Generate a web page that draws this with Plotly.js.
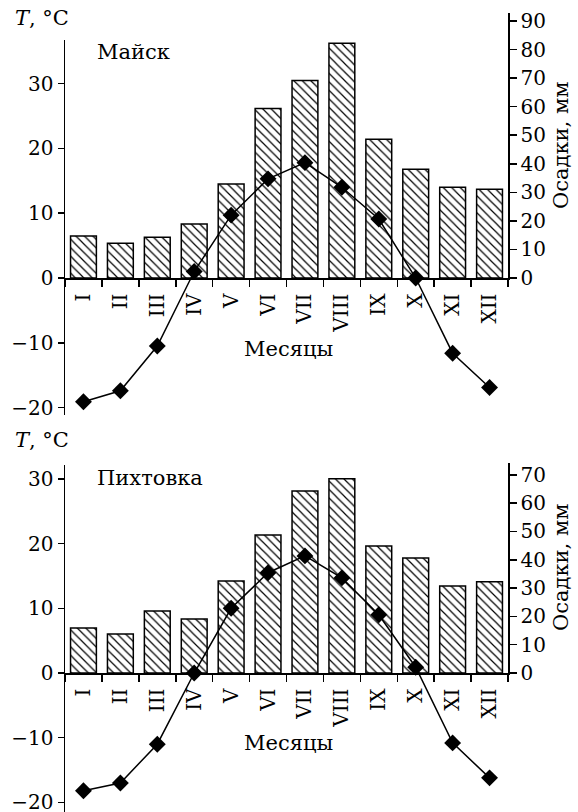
<!DOCTYPE html>
<html><head><meta charset="utf-8">
<script src="https://cdn.plot.ly/plotly-3.0.1.min.js"></script>
<style>html,body{margin:0;padding:0;background:#fff;}</style>
</head><body>
<div id="chart" style="width:578px;height:812px;"></div>
<script>
const months = ['I','II','III','IV','V','VI','VII','VIII','IX','X','XI','XII'];
const precipMaysk = [14.7, 12.2, 14.3, 18.9, 32.9, 59.4, 69.2, 82.2, 48.6, 38.1, 31.8, 31.1];
const tempMaysk = [-19.1, -17.4, -10.5, 1.0, 9.7, 15.3, 17.8, 14.0, 9.1, 0.0, -11.6, -16.9];
const precipPikht = [15.9, 13.8, 21.9, 19.1, 32.5, 48.8, 64.3, 68.6, 44.9, 40.6, 30.7, 32.2];
const tempPikht = [-18.2, -17.0, -11.0, 0.0, 10.0, 15.5, 18.1, 14.7, 9.0, 0.9, -10.8, -16.2];
const tempTicks = [-20, -10, 0, 10, 20, 30];
const precipTicksA = [0,10,20,30,40,50,60,70,80,90];
const precipTicksB = [0,10,20,30,40,50,60,70];

const W = 578, H = 812, L = 65, R = 70;
const PW = W - L - R;
const px2x = p => (p - L) / PW;
const px2y = p => 1 - p / H;

const FONT = 'DejaVu Serif';
const pattern = {shape:'\\', size:6, solidity:0.2, fgcolor:'black', bgcolor:'white', fillmode:'replace'};

function bars(y, xa, ya){
  return {type:'bar', x:months, y:y, xaxis:xa, yaxis:ya, width:0.7,
    marker:{color:'white', line:{color:'black', width:1.5}, pattern:pattern},
    hoverinfo:'skip', showlegend:false};
}
function line(y, xa, ya){
  return {type:'scatter', mode:'lines+markers', x:months, y:y, xaxis:xa, yaxis:ya,
    line:{color:'black', width:1.5},
    marker:{symbol:'diamond', size:13, color:'black'},
    cliponaxis:false,
    hoverinfo:'skip', showlegend:false};
}

const data = [
  bars(precipMaysk, 'x', 'y'),
  line(tempMaysk, 'x', 'y2'),
  bars(precipPikht, 'x2', 'y3'),
  line(tempPikht, 'x2', 'y4')
];

const xBase = {type:'category', range:[-0.5, 11.5], showline:true, linecolor:'black', linewidth:1.5,
  ticks:'outside', tickson:'boundaries', ticklen:7, tickwidth:1.5, tickcolor:'black',
  ticklabelstandoff:6,
  tickangle:-90, showgrid:false, zeroline:false, tickfont:{family:FONT, size:20, color:'black'}};
const yTemp = {showline:true, linecolor:'black', linewidth:1.5, ticks:'outside', ticklen:6, tickwidth:1.5,
  tickcolor:'black', showgrid:false, zeroline:false, tickvals:tempTicks, side:'left',
  ticklabeloverflow:'allow', tickfont:{family:FONT, size:20, color:'black'}};
const yPrec = {showline:true, linecolor:'black', linewidth:1.5, ticks:'outside', ticklen:7, tickwidth:1.5,
  tickcolor:'black', showgrid:false, zeroline:false, side:'right',
  ticklabeloverflow:'allow', tickfont:{family:FONT, size:20, color:'black'}};

const layout = {
  width:W, height:H, margin:{l:L, r:R, t:0, b:0}, paper_bgcolor:'white', plot_bgcolor:'rgba(0,0,0,0)',
  font:{family:FONT, color:'black'}, showlegend:false, bargap:0.3,
  xaxis: Object.assign({}, xBase, {anchor:'y', domain:[0,1]}),
  xaxis2: Object.assign({}, xBase, {anchor:'y3', domain:[0,1]}),
  yaxis: Object.assign({}, yPrec, {anchor:'x', domain:[px2y(278), px2y(13)], range:[0, 92.8], tickvals:precipTicksA}),
  yaxis2: Object.assign({}, yTemp, {anchor:'x', domain:[px2y(415), px2y(40)], range:[-21.14, 36.73]}),
  yaxis3: Object.assign({}, yPrec, {anchor:'x2', domain:[px2y(673), px2y(463)], range:[0, 74.2], tickvals:precipTicksB}),
  yaxis4: Object.assign({}, yTemp, {anchor:'x2', domain:[0, px2y(465)], range:[-21.48, 32.15]}),
  annotations: [
    {text:'<i>T</i>, °C', xref:'paper', yref:'paper', x:px2x(13), y:px2y(18), xanchor:'left', yanchor:'middle', showarrow:false, font:{family:FONT, size:21}},
    {text:'Майск', xref:'paper', yref:'paper', x:px2x(95), y:px2y(52), xanchor:'left', yanchor:'middle', showarrow:false, font:{family:FONT, size:21}},
    {text:'Месяцы', xref:'paper', yref:'paper', x:px2x(288), y:px2y(349), xanchor:'center', yanchor:'middle', showarrow:false, font:{family:FONT, size:21}},
    {text:'Осадки, мм', xref:'paper', yref:'paper', x:px2x(561), y:px2y(145), xanchor:'center', yanchor:'middle', textangle:-90, showarrow:false, font:{family:FONT, size:21}},
    {text:'<i>T</i>, °C', xref:'paper', yref:'paper', x:px2x(13), y:px2y(440), xanchor:'left', yanchor:'middle', showarrow:false, font:{family:FONT, size:21}},
    {text:'Пихтовка', xref:'paper', yref:'paper', x:px2x(95), y:px2y(478), xanchor:'left', yanchor:'middle', showarrow:false, font:{family:FONT, size:21}},
    {text:'Месяцы', xref:'paper', yref:'paper', x:px2x(288), y:px2y(743), xanchor:'center', yanchor:'middle', showarrow:false, font:{family:FONT, size:21}},
    {text:'Осадки, мм', xref:'paper', yref:'paper', x:px2x(561), y:px2y(567), xanchor:'center', yanchor:'middle', textangle:-90, showarrow:false, font:{family:FONT, size:21}}
  ]
};

Plotly.newPlot('chart', data, layout, {staticPlot:true, displayModeBar:false});
</script>
</body></html>
